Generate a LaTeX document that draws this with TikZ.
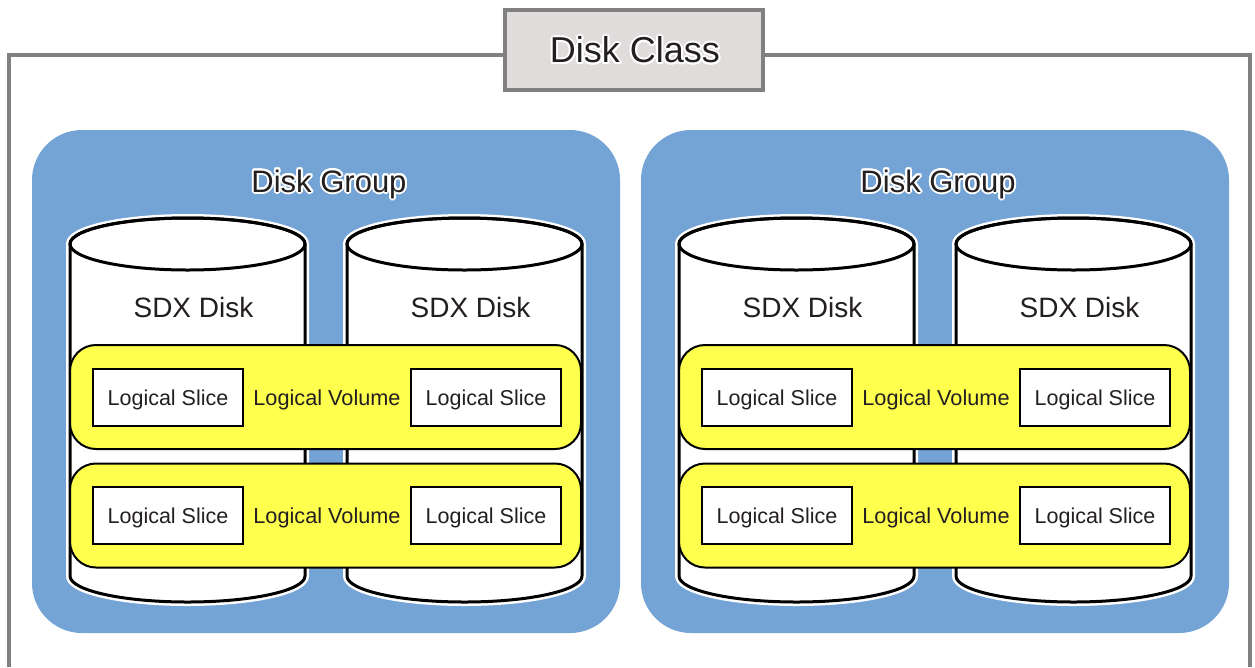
\documentclass[tikz,border=0pt]{standalone}
\usepackage{fontspec}
\setmainfont{Liberation Sans}
\definecolor{grpblue}{RGB}{116,163,214}
\definecolor{volyellow}{RGB}{255,255,77}
\definecolor{classgray}{RGB}{224,220,219}
\definecolor{framegray}{RGB}{128,128,128}
\definecolor{txtdark}{RGB}{35,31,32}
\tikzset{
  classbox/.style={draw=framegray, line width=4pt, fill=classgray, minimum width=258pt, minimum height=80pt, inner sep=0pt},
  groupbox/.style={fill=grpblue, rounded corners=50pt, minimum width=588pt, minimum height=503pt, inner sep=0pt},
  volbox/.style={draw=black, line width=2pt, fill=volyellow, rounded corners=26pt, minimum width=511pt, minimum height=104pt, inner sep=0pt},
  slicebox/.style={draw=black, line width=2pt, fill=white, minimum width=150pt, minimum height=57pt, inner sep=0pt},
  slicetext/.style={inner sep=0pt, font=\fontsize{21.5}{24}\selectfont, text=txtdark},
  voltext/.style={inner sep=0pt, font=\fontsize{21.7}{24}\selectfont, text=txtdark},
  disktext/.style={inner sep=0pt, font=\fontsize{28}{32}\selectfont, text=txtdark},
  grouptext/.style={inner sep=0pt, font=\fontsize{31}{34}\selectfont, text=txtdark},
  classtext/.style={inner sep=0pt, font=\fontsize{36}{40}\selectfont, text=txtdark},
  halo/.style={text=white},
  cylhalo/.style={draw=white, line width=8pt},
  cylline/.style={draw=black, line width=3pt, fill=white},
}
% text with a white outline: 16 white copies round it, then the text itself
\newcommand\halonode[5]{%
  \foreach \hi/\dx/\dy in {1/2/0,2/-2/0,3/0/2,4/0/-2,5/1.4/1.4,6/-1.4/1.4,7/1.4/-1.4,8/-1.4/-1.4,
      9/1.8/0.8,10/-1.8/0.8,11/1.8/-0.8,12/-1.8/-0.8,13/0.8/1.8,14/-0.8/1.8,15/0.8/-1.8,16/-0.8/-1.8}{
    \node[#2, halo] (#1h\hi) at ([shift={(\dx,\dy)}]#3,#4) {#5};
  }
  \node[#2] (#1) at (#3,#4) {#5};
}
\begin{document}
\begin{tikzpicture}[x=1pt,y=-1pt]
\useasboundingbox (0,0) rectangle (1255,667);
% outer frame
\coordinate (fbl) at (9,667);
\coordinate (ftl) at (9,54.5);
\coordinate (ftr) at (1250,54.5);
\coordinate (fbr) at (1250,667);
\draw[framegray, line width=4pt] (fbl) -- (ftl) -- (ftr) -- (fbr);
\node[classbox] (class) at (634,50) {};
\halonode{classlbl}{classtext}{635}{50}{Disk Class}
\foreach \g/\ox in {L/0,R/609}{
  \node[groupbox] (grp\g) at (326+\ox,381.5) {};
  \pgfmathsetmacro{\gx}{329+\ox}
  \halonode{grplbl\g}{grouptext}{\gx}{184}{Disk Group}
  \foreach \c/\xl in {1/70,2/347}{
    \pgfmathsetmacro{\xa}{\xl+\ox}
    \pgfmathsetmacro{\xb}{\xl+\ox+235}
    \pgfmathsetmacro{\xc}{\xl+\ox+117.5}
    \path[cylhalo] (\xa,244) -- (\xa,576) arc[start angle=180,end angle=0,x radius=117.5,y radius=26] -- (\xb,244) arc[start angle=0,end angle=-180,x radius=117.5,y radius=26] -- cycle;
    \path[cylline] (\xa,244) -- (\xa,576) arc[start angle=180,end angle=0,x radius=117.5,y radius=26] -- (\xb,244) arc[start angle=0,end angle=-180,x radius=117.5,y radius=26] -- cycle;
    \draw[black, line width=3pt] (\xc,244) ellipse[x radius=117.5, y radius=26];
    \node[disktext] (disk\g\c) at (\xc+6,307) {SDX Disk};
  }
  \foreach \r/\y in {1/397,2/515.5}{
    \node[volbox] (vol\g\r) at (325.5+\ox,\y) {};
    \node[voltext] (vollbl\g\r) at (327+\ox,\y+2.5) {Logical Volume};
    \node[slicebox] (slA\g\r) at (168+\ox,\y) {};
    \node[slicetext] (slAt\g\r) at (168+\ox,\y+2.5) {Logical Slice};
    \node[slicebox] (slB\g\r) at (486+\ox,\y) {};
    \node[slicetext] (slBt\g\r) at (486+\ox,\y+2.5) {Logical Slice};
  }
}
\end{tikzpicture}
\end{document}
